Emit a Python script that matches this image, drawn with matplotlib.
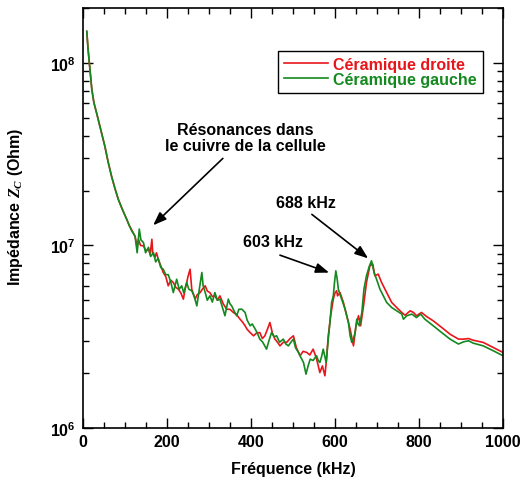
import numpy as np
import matplotlib
matplotlib.use("Agg")
import matplotlib.pyplot as plt
from matplotlib.ticker import MultipleLocator, LogLocator, FixedLocator, FixedFormatter, NullFormatter

plt.rcParams['font.family'] = ['Liberation Sans', 'DejaVu Sans']
plt.rcParams['font.weight'] = 'bold'
plt.rcParams['mathtext.fontset'] = 'custom'
plt.rcParams['mathtext.bf'] = 'Liberation Sans:bold'
plt.rcParams['mathtext.rm'] = 'Liberation Sans:bold'
plt.rcParams['mathtext.it'] = 'Liberation Serif:italic'

# common low-frequency part (both ceramics overlap), kHz / log10(Ohm)
freq_common = [9, 12, 15, 18, 21, 26, 33, 40, 52, 60, 68, 76, 84, 94, 104, 110]
logz_common = [8.173, 8.077, 8.003, 7.923, 7.855, 7.782, 7.720, 7.655, 7.544, 7.456,
               7.379, 7.313, 7.253, 7.196, 7.144, 7.110]

# Ceramique droite (red)
freq_droite = [116, 124, 129, 132, 137, 144, 150, 156, 160, 164, 166, 171, 175, 179, 185,
               191, 197, 203, 209, 215, 221, 227, 233, 239, 243, 247, 250, 255, 259, 267,
               272, 279, 284, 291, 296, 302, 308, 314, 320, 326, 334, 342, 350, 358, 366,
               374, 380, 386, 391, 398, 406, 413, 421, 427, 433, 439, 445, 451, 457, 463,
               469, 477, 485, 493, 501, 508, 517, 524, 533, 540, 548, 556, 564, 570, 576,
               580, 584, 590, 596, 600, 604, 606, 612, 620, 628, 636, 644, 650, 656, 661,
               668, 675, 683, 690, 695, 703, 711, 723, 735, 747, 759, 767, 779, 787, 794,
               806, 818, 834, 854, 874, 894, 906, 918, 929, 953, 977, 1000]
logz_droite = [7.085, 7.050, 6.990, 7.034, 7.000, 6.998, 6.970, 6.980, 6.950, 7.034, 6.960,
               6.934, 6.960, 6.925, 6.890, 6.852, 6.830, 6.779, 6.810, 6.797, 6.770, 6.761,
               6.740, 6.706, 6.760, 6.797, 6.830, 6.870, 6.760, 6.706, 6.730, 6.742, 6.760,
               6.779, 6.750, 6.742, 6.720, 6.724, 6.700, 6.724, 6.680, 6.651, 6.650, 6.633,
               6.620, 6.596, 6.580, 6.560, 6.540, 6.523, 6.505, 6.520, 6.523, 6.490, 6.505,
               6.540, 6.578, 6.520, 6.487, 6.470, 6.450, 6.470, 6.469, 6.490, 6.505, 6.440,
               6.396, 6.420, 6.414, 6.400, 6.432, 6.380, 6.304, 6.340, 6.286, 6.380, 6.505,
               6.620, 6.706, 6.740, 6.752, 6.724, 6.742, 6.688, 6.615, 6.542, 6.450, 6.560,
               6.615, 6.560, 6.669, 6.797, 6.888, 6.898, 6.834, 6.843, 6.797, 6.742, 6.688,
               6.660, 6.633, 6.618, 6.642, 6.633, 6.615, 6.633, 6.611, 6.587, 6.551, 6.514,
               6.487, 6.487, 6.490, 6.481, 6.469, 6.441, 6.414]

# Ceramique gauche (green)
freq_gauche = [116, 124, 129, 134, 138, 144, 149, 156, 161, 168, 173, 179, 185, 191, 197,
               203, 209, 215, 223, 229, 235, 240, 247, 252, 259, 265, 271, 277, 283, 286,
               291, 296, 302, 308, 314, 320, 326, 332, 338, 346, 350, 354, 360, 366, 371,
               378, 386, 391, 398, 403, 410, 415, 421, 428, 437, 443, 449, 455, 461, 468,
               477, 483, 489, 495, 501, 506, 513, 518, 525, 531, 536, 541, 548, 556, 560,
               564, 568, 572, 579, 584, 588, 592, 596, 599, 602, 605, 608, 612, 616, 624,
               632, 636, 640, 644, 648, 652, 655, 658, 664, 669, 675, 682, 687, 693, 699,
               707, 715, 723, 735, 747, 759, 763, 771, 783, 794, 804, 814, 834, 854, 874,
               894, 906, 918, 929, 953, 977, 1000]
logz_gauche = [7.080, 7.050, 6.960, 7.090, 7.030, 7.016, 6.960, 6.990, 6.940, 6.960, 6.910,
               6.930, 6.880, 6.870, 6.840, 6.840, 6.800, 6.742, 6.815, 6.760, 6.779, 6.740,
               6.797, 6.760, 6.752, 6.720, 6.669, 6.760, 6.852, 6.780, 6.742, 6.700, 6.724,
               6.690, 6.742, 6.700, 6.706, 6.660, 6.615, 6.706, 6.680, 6.669, 6.640, 6.615,
               6.650, 6.651, 6.633, 6.590, 6.560, 6.570, 6.542, 6.520, 6.487, 6.470, 6.432,
               6.480, 6.523, 6.500, 6.505, 6.470, 6.487, 6.460, 6.450, 6.470, 6.487, 6.440,
               6.414, 6.390, 6.359, 6.295, 6.340, 6.377, 6.370, 6.396, 6.370, 6.359, 6.390,
               6.432, 6.359, 6.487, 6.580, 6.688, 6.724, 6.800, 6.861, 6.820, 6.761, 6.730,
               6.706, 6.651, 6.578, 6.505, 6.469, 6.490, 6.523, 6.596, 6.570, 6.560, 6.633,
               6.761, 6.834, 6.888, 6.916, 6.852, 6.815, 6.761, 6.724, 6.688, 6.660, 6.642,
               6.624, 6.596, 6.615, 6.624, 6.605, 6.624, 6.596, 6.560, 6.523, 6.487, 6.460,
               6.472, 6.478, 6.465, 6.450, 6.423, 6.396]

red = '#e8161b'
green = '#13891f'

fig = plt.figure(figsize=(5.23, 4.89), dpi=100)
ax = fig.add_axes([0.1587, 0.1227, 0.8030, 0.8589])

xr = np.array(freq_common + freq_droite)
yr = 10 ** np.array(logz_common + logz_droite)
xg = np.array(freq_common + freq_gauche)
yg = 10 ** np.array(logz_common + logz_gauche)

ax.plot(xr, yr, color=red, lw=1.2, label='Céramique droite')
ax.plot(xg, yg, color=green, lw=1.2, label='Céramique gauche')

ax.set_yscale('log')
ax.set_xlim(0, 1000)
ax.set_ylim(1e6, 2e8)

ax.xaxis.set_major_locator(MultipleLocator(200))
ax.xaxis.set_minor_locator(MultipleLocator(50))
ax.yaxis.set_major_locator(FixedLocator([1e6, 1e7, 1e8]))
ax.yaxis.set_major_formatter(FixedFormatter([r'$\mathbf{10^{6}}$', r'$\mathbf{10^{7}}$', r'$\mathbf{10^{8}}$']))
ax.yaxis.set_minor_locator(LogLocator(base=10, subs=np.arange(2, 10)))
ax.yaxis.set_minor_formatter(NullFormatter())

ax.tick_params(which='both', direction='in', top=True, right=True, labelsize=11.5)
ax.tick_params(which='major', length=7, width=1)
ax.tick_params(which='minor', length=4, width=1)
ax.tick_params(axis='x', pad=4)
ax.tick_params(axis='y', pad=5)
for s in ax.spines.values():
    s.set_linewidth(1.2)

ax.set_xlabel('Fréquence (kHz)', fontsize=11.5, fontweight='bold', labelpad=9)
ax.set_ylabel(r'Impédance $Z_C$ (Ohm)', fontsize=11.5, fontweight='bold')
ax.yaxis.set_label_coords(-0.137, 0.529)

leg = ax.legend(loc='upper right', bbox_to_anchor=(0.952, 0.898), borderaxespad=0,
                fancybox=False, framealpha=1, edgecolor='black', fontsize=11.5,
                handlelength=2.8, handletextpad=0.3, labelspacing=0.0, borderpad=0.38)
leg.get_frame().set_linewidth(1.0)
for txt, c in zip(leg.get_texts(), [red, green]):
    txt.set_color(c)
    txt.set_fontweight('bold')

arrow = dict(arrowstyle='-|>,head_length=0.8,head_width=0.3', color='black', lw=1.2,
             shrinkA=0, shrinkB=0)
ax.annotate('', xy=(167, 1.29e7), xytext=(333, 3.0e7), arrowprops=arrow)
ax.text(386, 3.9e7, 'Résonances dans\nle cuivre de la cellule', ha='center', va='center',
        fontsize=11.5, fontweight='bold', linespacing=1.05)
ax.annotate('', xy=(679, 8.5e6), xytext=(545, 1.48e7), arrowprops=arrow)
ax.text(531, 1.72e7, '688 kHz', ha='center', va='center', fontsize=11.5, fontweight='bold')
ax.annotate('', xy=(586, 7.1e6), xytext=(469, 8.85e6), arrowprops=arrow)
ax.text(452, 1.05e7, '603 kHz', ha='center', va='center', fontsize=11.5, fontweight='bold')

fig.savefig('out.png', dpi=100)
